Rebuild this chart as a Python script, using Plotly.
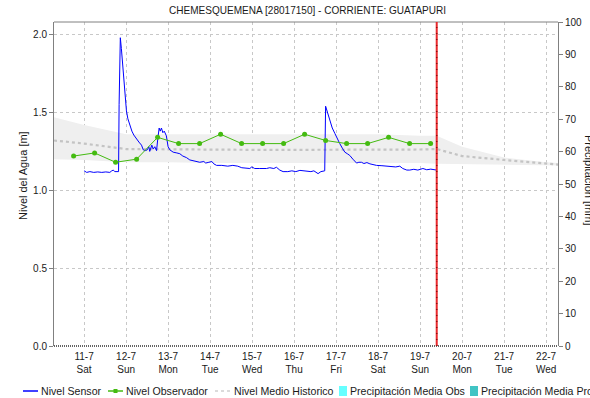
import pandas as pd
import plotly.graph_objects as go

# ---------------------------------------------------------------------------
# Data (hours counted from 2020-07-11 00:00)
# ---------------------------------------------------------------------------
T0 = pd.Timestamp("2020-07-11 00:00")

SENSOR_HOURS = [
    0, 0.7, 1.5, 3.3, 5.5, 7.8, 10.1, 12.4, 14.7, 15.8, 16.7, 17.5, 19.7,
    20.0, 20.7, 21.3, 21.8, 22.4, 23.0, 23.5, 24.2, 25.0, 26.1, 27.3, 28.4,
    29.8, 31.3, 32.8, 33.8, 35.0, 36.1, 37.0, 37.5, 38.7, 39.5, 40.4, 41.4,
    42.1, 42.9, 43.5, 44.2, 45.0, 45.8, 47.0, 48.0, 49.0, 50.9, 53.0, 54.7,
    56.4, 58.5, 60.4, 62.3, 64.4, 66.1, 68.4, 69.5, 71.3, 73.0, 74.1, 75.7,
    78.7, 82.1, 85.0, 87.8, 90.1, 92.8, 94.7, 95.8, 97.5, 100.4, 104.2,
    106.1, 108.4, 109.9, 111.8, 113.7, 116.4, 118.7, 121.0, 123.3, 125.6,
    127.8, 129.6, 131.3, 133.7, 135.3, 137.5, 138.0, 139.3, 140.4, 141.8,
    143.3, 144.7, 146.1, 147.6, 149.0, 150.4, 151.8, 153.6, 155.7, 157.0,
    158.5, 159.9, 161.6, 163.3, 165.0, 167.1, 170.2, 174.7, 178.1, 180.4,
    182.1, 184.4, 186.1, 188.4, 190.7, 193.6, 195.8, 198.1, 201.4,
]
SENSOR_LEVEL = [
    1.125, 1.12, 1.115, 1.12, 1.115, 1.118, 1.115, 1.118, 1.115, 1.125, 1.13,
    1.12, 1.12, 1.55, 1.98, 1.91, 1.83, 1.74, 1.65, 1.58, 1.51, 1.46, 1.42,
    1.38, 1.355, 1.33, 1.31, 1.29, 1.26, 1.255, 1.26, 1.28, 1.25, 1.29,
    1.265, 1.28, 1.255, 1.33, 1.40, 1.38, 1.40, 1.37, 1.38, 1.35, 1.28,
    1.26, 1.245, 1.24, 1.235, 1.22, 1.21, 1.195, 1.19, 1.18, 1.18, 1.185,
    1.175, 1.18, 1.185, 1.17, 1.16, 1.16, 1.155, 1.16, 1.155, 1.145, 1.14,
    1.14, 1.15, 1.14, 1.14, 1.14, 1.145, 1.14, 1.148, 1.13, 1.12, 1.12,
    1.125, 1.12, 1.128, 1.124, 1.125, 1.12, 1.125, 1.107, 1.12, 1.125,
    1.54, 1.49, 1.45, 1.40, 1.365, 1.33, 1.30, 1.27, 1.245, 1.235, 1.224,
    1.20, 1.175, 1.18, 1.18, 1.172, 1.178, 1.17, 1.165, 1.16, 1.158, 1.155,
    1.15, 1.155, 1.14, 1.13, 1.13, 1.135, 1.13, 1.14, 1.132, 1.136, 1.13,
]

# observer readings, 06:00 and 18:00
OBS_HOURS = [-6, 6, 18, 30, 42, 54, 66, 78, 90, 102, 114, 126, 138, 150,
             162, 174, 186, 198]
OBS_LEVEL = [1.22, 1.24, 1.18, 1.20, 1.34, 1.30, 1.30, 1.36, 1.30, 1.30,
             1.30, 1.36, 1.32, 1.30, 1.30, 1.34, 1.30, 1.30]

# historical mean and its band
HIST_HOURS = [-17.2, 0, 24, 48, 72, 96, 120, 144, 168, 192, 201.5, 216,
              240, 264, 271.2]
HIST_MEAN = [1.32, 1.30, 1.265, 1.262, 1.26, 1.26, 1.26, 1.26, 1.26, 1.262,
             1.265, 1.22, 1.195, 1.175, 1.165]
HIST_UPPER = [1.47, 1.42, 1.36, 1.36, 1.36, 1.36, 1.36, 1.36, 1.36, 1.35,
              1.35, 1.28, 1.21, 1.18, 1.175]
HIST_LOWER = [1.20, 1.195, 1.18, 1.18, 1.175, 1.175, 1.175, 1.175, 1.175,
              1.175, 1.17, 1.168, 1.165, 1.162, 1.16]

NOW_HOUR = 201.5

TICK_DAYS = list(range(0, 12))
TICK_LABELS = ["11-7<br>Sat", "12-7<br>Sun", "13-7<br>Mon", "14-7<br>Tue",
               "15-7<br>Wed", "16-7<br>Thu", "17-7<br>Fri", "18-7<br>Sat",
               "19-7<br>Sun", "20-7<br>Mon", "21-7<br>Tue", "22-7<br>Wed"]

TITLE = "CHEMESQUEMENA [28017150] - CORRIENTE: GUATAPURI"
FONT = "Liberation Sans, Arial, sans-serif"
TXT = "#1a1a1a"
BLUE = "#0000ff"
GREEN = "#44bb11"
GREY_MEAN = "#c4c4c4"
BAND = "#efefef"


def to_time(hours):
    return [T0 + pd.Timedelta(hours=h) for h in hours]


hist_t = to_time(HIST_HOURS)
now_t = T0 + pd.Timedelta(hours=NOW_HOUR)

fig = go.Figure()

# band (upper then lower filled to it)
fig.add_trace(go.Scatter(x=hist_t, y=HIST_UPPER, mode="lines",
                         line=dict(width=0, color=BAND), hoverinfo="skip"))
fig.add_trace(go.Scatter(x=hist_t, y=HIST_LOWER, mode="lines", fill="tonexty",
                         fillcolor=BAND, line=dict(width=0, color=BAND),
                         hoverinfo="skip"))
fig.add_trace(go.Scatter(x=hist_t, y=HIST_MEAN, mode="lines", name="Nivel Medio Historico",
                         line=dict(color=GREY_MEAN, width=2.2, dash="3px,3px")))
fig.add_trace(go.Scatter(x=to_time(SENSOR_HOURS), y=SENSOR_LEVEL, mode="lines",
                         name="Nivel Sensor", line=dict(color=BLUE, width=1)))
fig.add_trace(go.Scatter(x=to_time(OBS_HOURS), y=OBS_LEVEL, mode="lines+markers",
                         name="Nivel Observador", line=dict(color=GREEN, width=1),
                         marker=dict(color=GREEN, size=5, symbol="circle")))
# empty trace to bring in the right axis
fig.add_trace(go.Scatter(x=[hist_t[0]], y=[None], yaxis="y2", mode="lines"))

x_range = [T0 - pd.Timedelta(hours=17.2), T0 + pd.Timedelta(hours=270.8)]

fig.update_layout(
    width=590, height=398,
    margin=dict(l=54, r=32, t=22, b=52, autoexpand=False),
    paper_bgcolor="white", plot_bgcolor="white",
    showlegend=False,
    font=dict(family=FONT, size=10, color=TXT),
    xaxis=dict(
        type="date", range=x_range, automargin=False,
        tickvals=to_time([d * 24 for d in TICK_DAYS]), ticktext=TICK_LABELS,
        showgrid=True, gridcolor="#c8c8c8", griddash="dot", gridwidth=1,
        ticks="", showline=False, zeroline=False, ticklabelstandoff=3,
        tickfont=dict(size=10, color=TXT),
    ),
    yaxis=dict(
        range=[0, 2.081], tickvals=[0, 0.5, 1.0, 1.5, 2.0], tickformat=".1f",
        automargin=False,
        showgrid=True, gridcolor="#c8c8c8", griddash="dot", gridwidth=1,
        ticks="outside", ticklen=4, tickcolor="#808080",
        showline=True, linecolor="#808080", linewidth=1, zeroline=False,
        tickfont=dict(size=10, color=TXT),
    ),
    yaxis2=dict(
        overlaying="y", side="right", range=[0, 100], dtick=10,
        automargin=False,
        showgrid=False, zeroline=False,
        ticks="outside", ticklen=4, tickcolor="#808080",
        showline=True, linecolor="#808080", linewidth=1,
        tickfont=dict(size=10, color=TXT),
    ),
)

# top border and dotted baseline
fig.add_shape(type="line", xref="paper", yref="paper", x0=0, x1=1, y0=1, y1=1,
              line=dict(color="#808080", width=1))
fig.add_shape(type="line", xref="paper", yref="paper", x0=0, x1=1, y0=0, y1=0,
              line=dict(color="#303030", width=1.5, dash="1px,1px"))

# current time marker
fig.add_shape(type="line", xref="x", yref="paper", x0=now_t, x1=now_t, y0=0, y1=1,
              line=dict(color="#e8282c", width=2))
fig.add_shape(type="line", xref="x", yref="paper", x0=now_t, x1=now_t, y0=0, y1=1,
              line=dict(color="#8a1010", width=1.5, dash="1px,5px"))


# pixel positions on the screenshot -> paper coords
def px_x(p):
    return (p - 54) / 504


def px_y(p):
    return (346 - p) / 324


# title and axis titles
fig.add_annotation(text=TITLE, xref="paper", yref="paper", x=px_x(307.5), y=px_y(10),
                   showarrow=False, xanchor="center", yanchor="middle",
                   font=dict(size=10.05, color=TXT))
fig.add_annotation(text="Nivel del Agua [m]", xref="paper", yref="paper",
                   x=px_x(23), y=px_y(176), textangle=-90, showarrow=False,
                   xanchor="center", yanchor="middle", font=dict(size=11, color=TXT))
fig.add_annotation(text="Precipitación [mm]", xref="paper", yref="paper",
                   x=px_x(589), y=px_y(180), textangle=90, showarrow=False,
                   xanchor="center", yanchor="middle", font=dict(size=11, color=TXT))

# hand-drawn legend along the bottom
LEG_Y = 391
legend_items = [
    ("line", BLUE, 23, 38, "Nivel Sensor", 39),
    ("marker", GREEN, 108, 123, "Nivel Observador", 124),
    ("dash", "#d0d0d0", 215, 231, "Nivel Medio Historico", 232),
    ("box", "#66ffff", 339, 347, "Precipitación Media Obs", 348),
    ("box", "#40c4c4", 470, 478, "Precipitación Media Pronosticada", 479),
]
for kind, color, x0, x1, label, tx in legend_items:
    if kind == "box":
        fig.add_shape(type="rect", xref="paper", yref="paper",
                      x0=px_x(x0), x1=px_x(x1), y0=px_y(LEG_Y + 5), y1=px_y(LEG_Y - 5),
                      line=dict(width=0), fillcolor=color)
    else:
        fig.add_shape(type="line", xref="paper", yref="paper",
                      x0=px_x(x0), x1=px_x(x1), y0=px_y(LEG_Y), y1=px_y(LEG_Y),
                      line=dict(color=color, width=1.5,
                                dash="3px,3px" if kind == "dash" else "solid"))
    if kind == "marker":
        fig.add_shape(type="rect", xref="paper", yref="paper",
                      x0=px_x(113.5), x1=px_x(117.5), y0=px_y(LEG_Y + 2), y1=px_y(LEG_Y - 2),
                      line=dict(width=0), fillcolor=color)
    fig.add_annotation(text=label, xref="paper", yref="paper", x=px_x(tx), y=px_y(LEG_Y),
                       xanchor="left", yanchor="middle", showarrow=False,
                       font=dict(size=10.6, color=TXT))

# drop the browser's default 8px body margin so the figure sits at (0, 0)
fig.write_html("out.html", config={"displayModeBar": False},
               post_script="document.body.style.margin = '0';")
